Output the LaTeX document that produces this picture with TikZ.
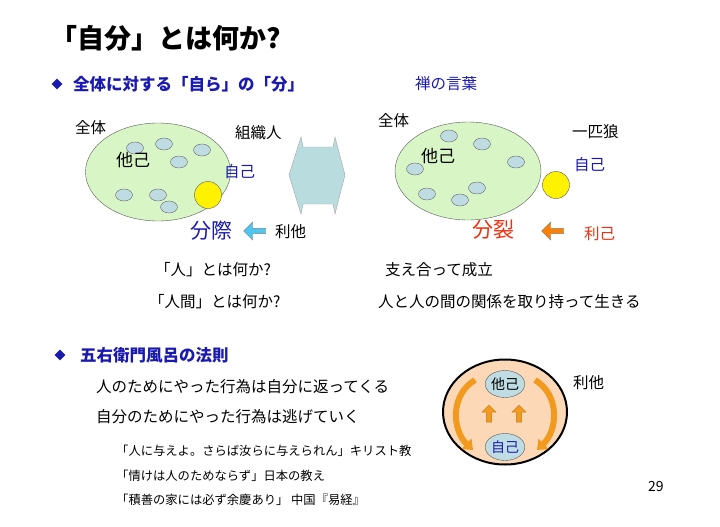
\documentclass[tikz,border=0pt]{standalone}
\usepackage{fontspec}
\setmainfont{Noto Sans CJK JP}
\usetikzlibrary{arrows.meta,shapes.arrows,shapes.geometric}
\definecolor{lgreen}{HTML}{D8F5C6}
\definecolor{lblue}{HTML}{BFDCE3}
\definecolor{arrblue}{HTML}{B9DCDF}
\definecolor{peach}{HTML}{FCD8B6}
\definecolor{dblue}{HTML}{1A1AB0}
\definecolor{redt}{HTML}{F03010}
\definecolor{org}{HTML}{F29A1E}
\begin{document}
\begin{tikzpicture}[x=1pt,y=-1pt,
 txt/.style={anchor=west,inner sep=0pt,font=\fontsize{15.5}{15.5}\selectfont},
 sml/.style={anchor=west,inner sep=0pt,font=\fontsize{12.3}{12.3}\selectfont},
 cell/.style={draw=gray!80!black,fill=lblue,ellipse,minimum width=17pt,minimum height=12pt,inner sep=0pt},
 yel/.style={circle,draw=gray!70!black,fill=yellow,minimum size=27pt,inner sep=0pt},
 bul/.style={diamond,fill=dblue,inner sep=0pt,minimum size=11pt}]
\useasboundingbox (0,0) rectangle (720,527);
\node[anchor=west,inner sep=0pt,font=\fontsize{27}{27}\selectfont\bfseries] (title) at (50,38) {「自分」とは何か?};
\node[bul] (b1) at (57,84) {};
\node[anchor=west,inner sep=0pt,font=\fontsize{16.5}{16.5}\selectfont\bfseries,text=dblue] (h1) at (73,84) {全体に対する「自ら」の「分」};
\node[txt,text=dblue] (zen) at (415,84) {禅の言葉};
% left
\node[ellipse,draw=gray!70!black,fill=lgreen,minimum width=145pt,minimum height=98pt] (E1) at (158,172) {};
\foreach \p [count=\i] in {(135,148),(164,144),(202,150),(179,162),(124,195),(158,195),(169,207)}
  \node[cell] (la\i) at \p {};
\node[yel] (ly) at (208,195) {};
\node[txt] (l1) at (75,128) {全体};
\node[txt,font=\fontsize{17}{17}\selectfont] (l2) at (116,160) {他己};
\node[txt] (l3) at (235,133) {組織人};
\node[txt,text=dblue] (l4) at (224,172) {自己};
\node[anchor=west,inner sep=0pt,font=\fontsize{21}{21}\selectfont,text=dblue] (l5) at (190,231) {分際};
\node[single arrow,shape border rotate=180,draw=gray,fill=cyan!70,minimum height=22pt,minimum width=18pt,single arrow head extend=3pt,inner sep=1pt] (la) at (256,231) {};
\node[txt] (l6) at (275,232) {利他};
% double arrow
\filldraw[draw=gray!70,fill=arrblue] (289,175) -- (301,137) -- (303,147) -- (333,147) -- (335,137) -- (345,175) -- (335,214) -- (333,204) -- (303,204) -- (301,214) -- cycle;
% right
\node[ellipse,draw=gray!70!black,fill=lgreen,minimum width=146pt,minimum height=98pt] (E2) at (468,171) {};
\foreach \p [count=\i] in {(449,136),(482,144),(516,162),(415,169),(477,188),(427,194),(460,200)}
  \node[cell] (ra\i) at \p {};
\node[yel] (ry) at (556,185) {};
\node[txt] (r1) at (378,121) {全体};
\node[txt,font=\fontsize{17}{17}\selectfont] (r2) at (421,156) {他己};
\node[txt] (r3) at (572,132) {一匹狼};
\node[txt,text=dblue] (r4) at (574,165) {自己};
\node[anchor=west,inner sep=0pt,font=\fontsize{21}{21}\selectfont,text=redt] (r5) at (472,230) {分裂};
\node[single arrow,shape border rotate=180,draw=gray,fill=orange,minimum height=22pt,minimum width=18pt,single arrow head extend=3pt,inner sep=1pt] (ra) at (554,231) {};
\node[txt,text=redt] (r6) at (584,234) {利己};
% middle texts
\node[txt] (m1) at (155,270) {「人」とは何か?};
\node[txt] (m2) at (149,302) {「人間」とは何か?};
\node[txt] (m3) at (385,270) {支え合って成立};
\node[txt] (m4) at (378,302) {人と人の間の関係を取り持って生きる};
% bottom
\node[bul] (b2) at (60,355) {};
\node[anchor=west,inner sep=0pt,font=\fontsize{16.5}{16.5}\selectfont\bfseries,text=dblue] (h2) at (80,355) {五右衛門風呂の法則};
\node[txt] (t1) at (96,387) {人のためにやった行為は自分に返ってくる};
\node[txt] (t2) at (96,417) {自分のためにやった行為は逃げていく};
\node[sml] (s1) at (116,451) {「人に与えよ。さらば汝らに与えられん」キリスト教};
\node[sml] (s2) at (116,476) {「情けは人のためならず」日本の教え};
\node[sml] (s3) at (116,500) {「積善の家には必ず余慶あり」 中国『易経』};
\node[txt,font=\fontsize{14}{14}\selectfont] (pg) at (648,487) {29};
% bath
\node[ellipse,draw=black,line width=2pt,fill=peach,minimum width=124pt,minimum height=105pt] (C) at (505,412) {};
\node[ellipse,draw=gray!70!black,fill=lblue,minimum width=32pt,minimum height=27pt,inner sep=0pt,font=\fontsize{14}{14}\selectfont] (ta) at (505,384) {他己};
\node[ellipse,draw=gray!70!black,fill=lblue,minimum width=32pt,minimum height=27pt,inner sep=0pt,font=\fontsize{14}{14}\selectfont,text=dblue] (ji) at (505,447) {自己};
\node[single arrow,shape border rotate=90,draw=org!80!black,fill=org,minimum height=17pt,minimum width=14pt,single arrow head extend=2pt,inner sep=1pt] (u1) at (489,415) {};
\node[single arrow,shape border rotate=90,draw=org!80!black,fill=org,minimum height=17pt,minimum width=14pt,single arrow head extend=2pt,inner sep=1pt] (u2) at (519,415) {};
\coordinate (la1) at (475,380); \coordinate (la2) at (473,450);
\coordinate (ra1) at (535,380); \coordinate (ra2) at (537,450);
\draw[org,line width=6pt,-{Triangle[length=9pt,width=14pt]}] (la1) .. controls (450,395) and (452,430) .. (la2);
\draw[org,line width=6pt,-{Triangle[length=9pt,width=14pt]}] (ra1) .. controls (560,395) and (558,430) .. (ra2);
\node[txt] (rt) at (573,383) {利他};
\end{tikzpicture}
\end{document}
